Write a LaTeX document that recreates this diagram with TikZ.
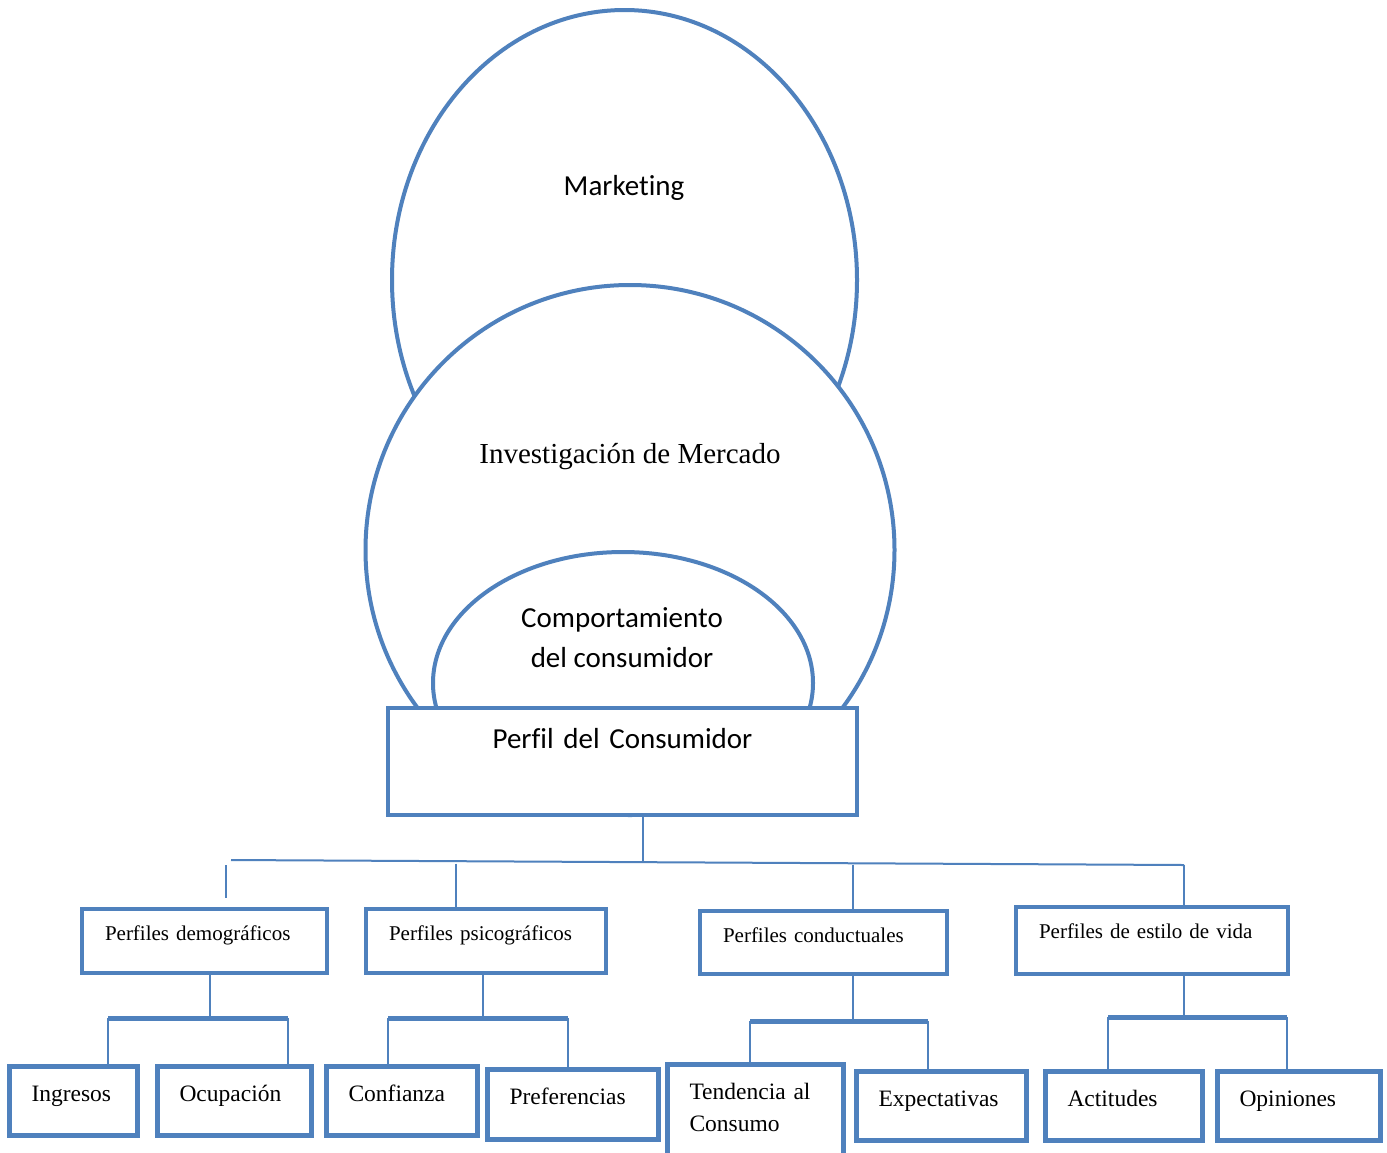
\documentclass[tikz,border=0pt]{standalone}
\usepackage{fontspec}
\setmainfont[Ligatures=NoCommon]{Liberation Serif}
\newfontfamily\calibri[Ligatures=NoCommon]{Carlito}
\usetikzlibrary{shapes.geometric}
\definecolor{azul}{RGB}{79,129,189}

\tikzset{
  circulo/.style={ellipse, draw=azul, line width=4pt, fill=white, inner sep=0pt},
  titulo/.style={anchor=base, align=center, font=\calibri\fontsize{29}{40}\selectfont},
  cajados/.style={draw=azul, line width=4pt, fill=white, anchor=north west, outer sep=0pt, inner xsep=23pt, inner ysep=0pt, align=left, text height=31pt, font=\fontsize{21}{25}\selectfont},
  hoja/.style={draw=azul, line width=5pt, fill=white, anchor=north west, outer sep=0pt, inner xsep=22.5pt, inner ysep=0pt, align=left, text height=35.5pt, font=\fontsize{23.5}{32}\selectfont},
  linea/.style={draw=azul, line width=2pt},
  barra/.style={draw=azul, line width=5pt}
}

\begin{document}
\begin{tikzpicture}[x=1pt,y=-1pt]
    \fill[white] (0,0) rectangle (1387,1152);
    \useasboundingbox (0,0) rectangle (1387,1152);

    % circulos
    \node[circulo, minimum width=465pt, minimum height=540pt] (mkt) at (624.5,280) {};
    \node[circulo, minimum width=529pt, minimum height=530pt] (inv) at (630,550) {};
    \node[circulo, minimum width=380pt, minimum height=262pt] (comp) at (623,683) {};

    \node[titulo] (mktlbl) at (624,195) {Marketing};
    \node[anchor=base, font=\fontsize{29}{35}\selectfont] (invlbl) at (630,463) {Investigación de Mercado};
    \node[titulo] (complbl) at (622,667) {Comportamiento\\del consumidor};

    \node[draw=azul, line width=4pt, fill=white, anchor=north west, outer sep=0pt, inner sep=0pt, text width=469pt, align=center, text height=40pt, text depth=67pt, font=\calibri\fontsize{29}{35}\selectfont] (perfil) at (388,708) {Perfil del Consumidor};

    % perfiles
    \node[cajados, text width=199pt, text depth=33pt] (demo) at (82,909) {Perfiles demográficos};
    \node[cajados, text width=194pt, text depth=33pt] (psico) at (366,909) {Perfiles psicográficos};
    \node[cajados, text width=201pt, text depth=32pt] (cond) at (700,911) {Perfiles conductuales};
    \node[cajados, text width=226pt, text depth=36pt] (estilo) at (1016,907) {Perfiles de estilo de vida};

    % hojas
    \node[hoja, text width=83pt, text depth=33.5pt] (ing) at (9,1066) {Ingresos};
    \node[hoja, text width=109pt, text depth=33.5pt] (ocu) at (157,1066) {Ocupación};
    \node[hoja, text width=106pt, text depth=33.5pt] (conf) at (326,1066) {Confianza};
    \node[hoja, text width=126pt, text depth=34.5pt] (pref) at (487,1069) {Preferencias};
    \node[hoja, text width=131pt, text depth=73pt] (tend) at (667,1064) {Tendencia al\\Consumo};
    \node[hoja, text width=125pt, text depth=33.5pt] (expe) at (856,1071) {Expectativas};
    \node[hoja, text width=112pt, text depth=33.5pt] (acti) at (1045,1071) {Actitudes};
    \node[hoja, text width=118pt, text depth=33.5pt] (opin) at (1217,1071) {Opiniones};

    % ramas superiores
    \coordinate (tronco) at (643,861);
    \coordinate (hizq) at (231,860);
    \coordinate (hder) at (1184,865);
    \coordinate (hpsi) at (456,863.5);
    \coordinate (hcon) at (853,864.5);
    \coordinate (hdem1) at (226,865);
    \coordinate (hdem2) at (226,898);

    \draw[linea] (perfil.south -| tronco) -- (tronco);
    \draw[linea] (hizq) -- (hder);
    \draw[linea] (hdem1) -- (hdem2);
    \draw[linea] (hpsi) -- (hpsi |- psico.north);
    \draw[linea] (hcon) -- (hcon |- cond.north);
    \draw[linea] (hder) -- (hder |- estilo.north);

    % ramas inferiores
    \coordinate (dm) at (210,1018);
    \coordinate (di) at (108,1018);
    \coordinate (dd) at (288,1018);
    \draw[linea] (demo.south -| dm) -- (dm);
    \draw[barra] (di) -- (dd);
    \draw[linea] (di) -- (di |- ing.north);
    \draw[linea] (dd) -- (dd |- ocu.north);

    \coordinate (pm) at (483,1018);
    \coordinate (pi) at (388,1018);
    \coordinate (pd) at (568,1018);
    \draw[linea] (psico.south -| pm) -- (pm);
    \draw[barra] (pi) -- (pd);
    \draw[linea] (pi) -- (pi |- conf.north);
    \draw[linea] (pd) -- (pd |- pref.north);

    \coordinate (cm) at (853,1021);
    \coordinate (ci) at (750,1021);
    \coordinate (cd) at (928,1021);
    \draw[linea] (cond.south -| cm) -- (cm);
    \draw[barra] (ci) -- (cd);
    \draw[linea] (ci) -- (ci |- tend.north);
    \draw[linea] (cd) -- (cd |- expe.north);

    \coordinate (em) at (1184,1017);
    \coordinate (ei) at (1108,1017);
    \coordinate (ed) at (1287,1017);
    \draw[linea] (estilo.south -| em) -- (em);
    \draw[barra] (ei) -- (ed);
    \draw[linea] (ei) -- (ei |- acti.north);
    \draw[linea] (ed) -- (ed |- opin.north);
\end{tikzpicture}
\end{document}
